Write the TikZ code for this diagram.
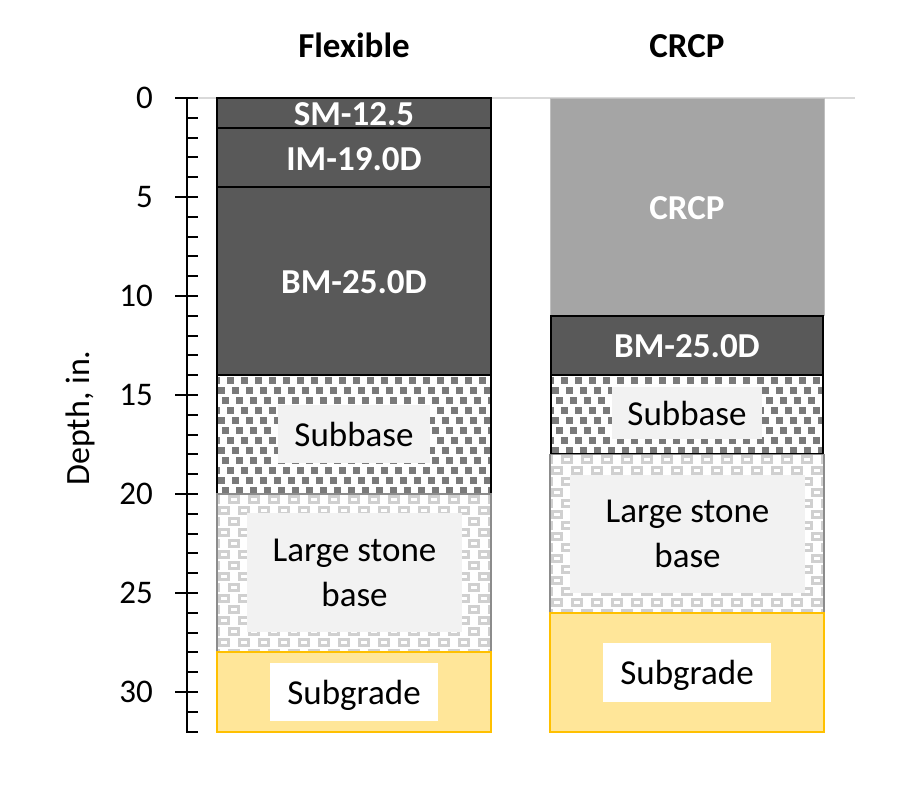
\documentclass[tikz,border=0pt]{standalone}
\usepackage{fontspec}
\setmainfont{Carlito}
\definecolor{darkfill}{HTML}{595959}
\definecolor{crcpfill}{HTML}{A5A5A5}
\definecolor{crcpedge}{HTML}{BFBFBF}
\definecolor{subdot}{HTML}{7A7A7A}
\definecolor{lsbgray}{HTML}{D0D0D0}
\definecolor{lsbedge}{HTML}{8C8C8C}
\definecolor{labelbg}{HTML}{F2F2F2}
\definecolor{sgfill}{HTML}{FFE699}
\definecolor{sgedge}{HTML}{FFC000}
\definecolor{topline}{HTML}{D9D9D9}
\newcommand\subpat[4]{%
  \begin{scope}
    \clip (#1,#2) rectangle (#3,#4);
    \fill[white] (#1,#2) rectangle (#3,#4);
    \foreach \j in {0,...,12}{
      \foreach \i in {0,...,21}{
        \fill[subdot] ({#1+1+14*\i+4.67*mod(\j,3)-5},{#2+2+10*\j}) rectangle +(7,6.5);
      }
    }
  \end{scope}}
\newcommand\lsbpat[4]{%
  \begin{scope}
    \clip (#1,#2) rectangle (#3,#4);
    \fill[white] (#1,#2) rectangle (#3,#4);
    \foreach \j in {0,...,15}{
      \foreach \i in {0,...,15}{
        \fill[lsbgray] ({#1+1+20*\i+10*mod(\j,2)-10},{#2+1+11*\j}) rectangle +(12,9);
        \fill[white] ({#1+4+20*\i+10*mod(\j,2)-10},{#2+4+11*\j}) rectangle +(6,2.5);
      }
    }
  \end{scope}}
\begin{document}
\begin{tikzpicture}[x=1pt,y=-1pt,
  title/.style={font=\fontsize{35}{40}\selectfont\bfseries, inner sep=0pt, anchor=base},
  boldlbl/.style={font=\fontsize{35}{40}\selectfont\bfseries, text=white, inner sep=0pt, anchor=base},
  boxlbl/.style={font=\fontsize{35}{45}\selectfont, inner sep=0pt, align=center, text depth=0pt},
  ticklbl/.style={font=\fontsize{33}{38}\selectfont, inner sep=0pt, anchor=base east},
  darklayer/.style={fill=darkfill, draw=black, line width=2pt},
  ]
\useasboundingbox (0,0) rectangle (912,788);

% top grey line
\draw[topline, line width=2pt] (187,98) -- (855,98);

% ---------- Flexible column ----------
\draw[darklayer] (217,98) rectangle (491,127.7);
\draw[darklayer] (217,127.7) rectangle (491,187.1);
\draw[darklayer] (217,187.1) rectangle (491,375.2);
\subpat{217}{375.2}{491}{494}
\draw[black, line width=2pt] (217,375.2) rectangle (491,494);
\lsbpat{217}{494}{491}{652.4}
\draw[lsbedge, line width=1.5pt] (217,494) rectangle (491,652.4);
\draw[sgedge, fill=sgfill, line width=2pt] (217,652.4) rectangle (491,731.6);

\node[boldlbl] (sm) at (354,125) {SM-12.5};
\node[boldlbl] (im) at (354,170) {IM-19.0D};
\node[boldlbl] (bmf) at (354,293) {BM-25.0D};
\node[boxlbl, fill=labelbg, minimum width=152pt, minimum height=58pt] (sbf) at (354,434) {Subbase};
\node[boxlbl, fill=labelbg, minimum width=215pt, minimum height=119pt] (lsbf) at (354.5,572.5) {Large stone\\base};
\node[boxlbl, fill=white, minimum width=168pt, minimum height=58pt] (sgf) at (354,692) {Subgrade};

% ---------- CRCP column ----------
\draw[crcpedge, fill=crcpfill, line width=1pt] (550,98) rectangle (824,315.8);
\draw[darklayer] (551,315.8) rectangle (823,375.2);
\subpat{551}{375.2}{823}{454.4}
\draw[black, line width=2pt] (551,375.2) rectangle (823,454.4);
\lsbpat{550}{454.4}{824}{612.8}
\draw[lsbedge, line width=1.5pt] (550,454.4) rectangle (824,612.8);
\draw[sgedge, fill=sgfill, line width=2pt] (550,612.8) rectangle (824,731.6);

\node[boldlbl] (crcpl) at (687,219) {CRCP};
\node[boldlbl] (bmc) at (687,357) {BM-25.0D};
\node[boxlbl, fill=labelbg, minimum width=150pt, minimum height=52pt] (sbc) at (687,413) {Subbase};
\node[boxlbl, fill=labelbg, minimum width=235pt, minimum height=118pt] (lsbc) at (687.5,534) {Large stone\\base};
\node[boxlbl, fill=white, minimum width=168pt, minimum height=59pt] (sgc) at (687,672.5) {Subgrade};

% ---------- titles ----------
\node[title] (tflex) at (354,57) {Flexible};
\node[title] (tcrcp) at (687,57) {CRCP};

% ---------- axis ----------
\draw[black, line width=2pt] (187,97) -- (187,732.6);
\foreach \d in {0,...,32}{
  \draw[black, line width=2pt] (186,{98+19.8*\d}) -- (198,{98+19.8*\d});
}
\foreach \d in {0,5,...,30}{
  \draw[black, line width=2pt] (175,{98+19.8*\d}) -- (198,{98+19.8*\d});
  \node[ticklbl] (t\d) at (153,{98+19.8*\d+10.5}) {\d};
}
\node[font=\fontsize{34}{40}\selectfont, inner sep=0pt, anchor=base, rotate=90] (ylab) at (89,418) {Depth, in.};
\end{tikzpicture}
\end{document}
